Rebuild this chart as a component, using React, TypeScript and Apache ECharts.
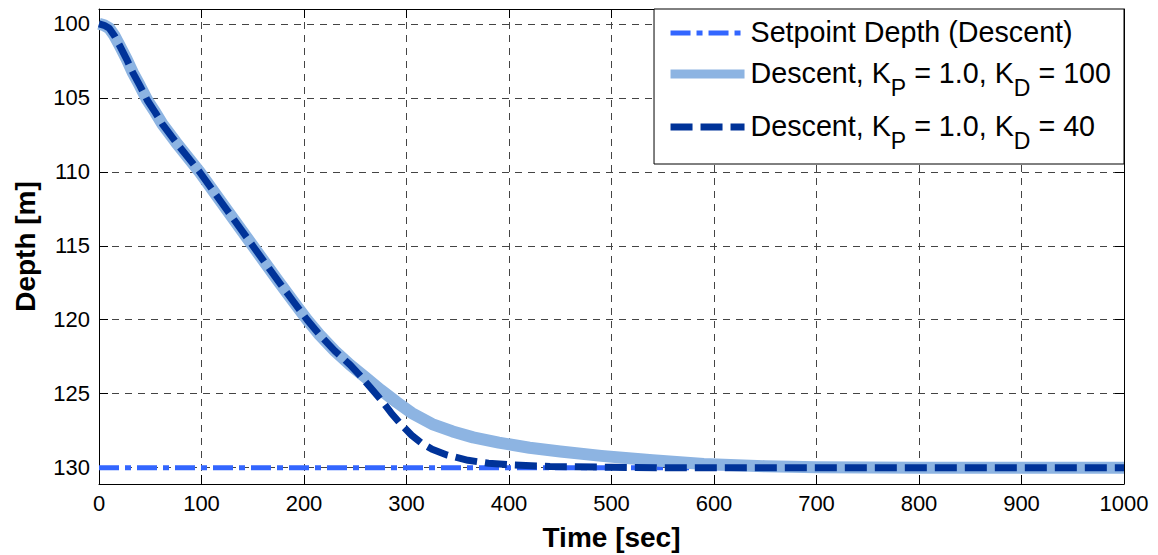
import React, { useEffect, useRef } from "react";
import * as echarts from "echarts";

const depthTicks = [100, 105, 110, 115, 120, 125, 130];

const setpointTime = [0, 1000];
const setpointDepth = [130, 130];

const kd100Time = [0, 5, 10, 15, 20, 27, 33, 40, 47, 55, 62, 75, 98, 125, 150, 175, 190, 203, 215, 230, 245, 260, 275, 290, 305, 325, 345, 365, 390, 420, 450, 490, 540, 590, 650, 700, 800, 900, 1000];
const kd100Depth = [100, 100.1, 100.3, 100.8, 101.45, 102.4, 103.3, 104.2, 105.15, 106.0, 106.8, 108.0, 110.0, 112.6, 115.0, 117.4, 118.8, 120.0, 121.0, 122.1, 123.05, 123.9, 124.75, 125.55, 126.3, 127.05, 127.55, 127.95, 128.3, 128.65, 128.9, 129.2, 129.5, 129.75, 129.9, 129.97, 130, 130, 130];

const kd40Time = [0, 5, 10, 15, 20, 27, 33, 40, 47, 55, 62, 75, 98, 125, 150, 175, 190, 203, 215, 230, 245, 255, 265, 275, 285, 295, 305, 315, 325, 340, 360, 380, 405, 440, 500, 550, 700, 1000];
const kd40Depth = [100, 100.1, 100.3, 100.8, 101.45, 102.4, 103.3, 104.2, 105.15, 106.0, 106.8, 108.0, 110.0, 112.6, 115.0, 117.4, 118.8, 120.0, 121.0, 122.1, 123.05, 123.8, 124.6, 125.4, 126.3, 127.1, 127.8, 128.35, 128.75, 129.15, 129.5, 129.7, 129.82, 129.92, 129.97, 130, 130, 130];

const NAME_SP = "Setpoint Depth (Descent)";
const NAME_100 = "Descent, KP = 1.0, KD = 100";
const NAME_40 = "Descent, KP = 1.0, KD = 40";

const C_SP = "#3366ff";
const C_100 = "#8db4e2";
const C_40 = "#003399";

const FONT = 'Arial, "Liberation Sans", sans-serif';

function pairs(t: number[], d: number[]) {
  return t.map((v, i) => [v, d[i]]);
}

export default function App() {
  const ref = useRef<HTMLDivElement>(null);
  useEffect(() => {
    if (!ref.current) return;
    const chart = echarts.init(ref.current, null, { renderer: "svg" });
    const gridLine = { show: true, lineStyle: { color: "#444", width: 1, type: [7, 6] as any } };
    const tickStyle = { show: true, inside: true, length: 9, lineStyle: { color: "#000", width: 1 } };
    const axisLine = { show: true, onZero: false, lineStyle: { color: "#000", width: 1 } };
    const labelStyle = { color: "#000", fontSize: 22, fontFamily: FONT };
    const LF = 28.7;
    const legendLabel: Record<string, string> = {
      [NAME_SP]: "{f|Setpoint Depth (Descent)}",
      [NAME_100]: "{f|Descent, K}{s|P}{m| = 1.0, K}{s|D}{m| = 100}",
      [NAME_40]: "{f|Descent, K}{s|P}{m| = 1.0, K}{s|D}{m| = 40}",
    };
    chart.setOption({
      animation: false,
      backgroundColor: "#fff",
      grid: { left: 99, right: 34, top: 9, bottom: 71, containLabel: false, outerBoundsMode: "none" },
      xAxis: [
        {
          type: "value",
          min: 0,
          max: 1000,
          interval: 100,
          position: "bottom",
          axisLine,
          axisTick: tickStyle,
          splitLine: gridLine,
          axisLabel: { ...labelStyle, margin: 8, formatter: (v: number) => String(v) },
          name: "Time [sec]",
          nameLocation: "middle",
          nameGap: 39,
          nameTextStyle: { color: "#000", fontSize: 28, fontWeight: "bold", fontFamily: FONT },
        },
        {
          type: "value",
          min: 0,
          max: 1000,
          interval: 100,
          position: "top",
          axisLine,
          axisTick: tickStyle,
          splitLine: { show: false },
          axisLabel: { show: false },
        },
      ],
      yAxis: [
        {
          type: "value",
          inverse: true,
          min: 99,
          max: 131.1,
          position: "left",
          axisLine,
          axisTick: { ...tickStyle, customValues: depthTicks },
          splitLine: gridLine,
          axisLabel: { ...labelStyle, margin: 9, customValues: depthTicks, formatter: (v: number) => String(v) },
          name: "Depth [m]",
          nameLocation: "middle",
          nameGap: 60,
          nameTextStyle: { color: "#000", fontSize: 28, fontWeight: "bold", fontFamily: FONT },
        },
        {
          type: "value",
          inverse: true,
          min: 99,
          max: 131.1,
          position: "right",
          axisLine,
          axisTick: { ...tickStyle, customValues: depthTicks },
          splitLine: { show: false },
          axisLabel: { show: false, customValues: depthTicks },
        },
      ],
      legend: {
        orient: "vertical",
        right: 34,
        top: 9,
        padding: [8, 13, 12, 12],
        itemGap: 12,
        itemWidth: 74,
        itemHeight: 14,
        backgroundColor: "#fff",
        borderColor: "#000",
        borderWidth: 1,
        selectedMode: false,
        formatter: (name: string) => legendLabel[name] || name,
        textStyle: {
          color: "#000",
          fontFamily: FONT,
          fontSize: LF,
          rich: {
            f: { fontSize: LF, lineHeight: 32, verticalAlign: "top", padding: [0, 0, 0, 1], fontFamily: FONT, color: "#000" },
            m: { fontSize: LF, lineHeight: 32, verticalAlign: "top", fontFamily: FONT, color: "#000" },
            s: { fontSize: 23, lineHeight: 23, verticalAlign: "top", padding: [18, 0, 0, 0], fontFamily: FONT, color: "#000" },
          },
        },
        data: [
          { name: NAME_SP, itemStyle: { opacity: 0 }, lineStyle: { color: C_SP, width: 5, type: [20, 6, 6, 6], opacity: 1 } },
          { name: NAME_100, itemStyle: { opacity: 0 }, lineStyle: { color: C_100, width: 9, type: "solid", opacity: 1 } },
          { name: NAME_40, itemStyle: { opacity: 0 }, lineStyle: { color: C_40, width: 7, type: [22, 8], opacity: 1 } },
        ],
      },
      series: [
        {
          name: NAME_SP,
          type: "line",
          data: pairs(setpointTime, setpointDepth),
          symbol: "none",
          lineStyle: { color: C_SP, width: 5, type: [20, 6, 6, 6], cap: "butt" },
          itemStyle: { color: C_SP },
        },
        {
          name: NAME_100,
          type: "line",
          data: pairs(kd100Time, kd100Depth),
          symbol: "none",
          lineStyle: { color: C_100, width: 12, join: "round" },
          itemStyle: { color: C_100 },
        },
        {
          name: NAME_40,
          type: "line",
          data: pairs(kd40Time, kd40Depth),
          symbol: "none",
          lineStyle: { color: C_40, width: 7, type: [22, 8], cap: "butt", join: "round" },
          itemStyle: { color: C_40 },
        },
      ],
    });
    return () => chart.dispose();
  }, []);
  return (
    <div
      ref={ref}
      style={{ position: "fixed", left: 0, top: 0, width: 1158, height: 555, background: "#fff" }}
    />
  );
}
